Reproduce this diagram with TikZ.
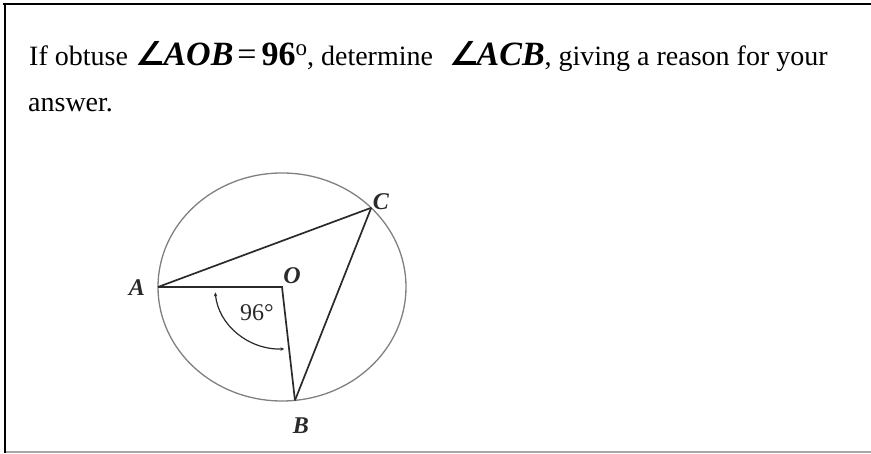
\documentclass[tikz,border=0pt]{standalone}
\usepackage{fontspec}
\setmainfont{Liberation Serif}
\newfontfamily\symfont{DejaVu Sans}
\usetikzlibrary{arrows.meta,calc}
\definecolor{ink}{HTML}{2A2A2A}
\definecolor{rim}{HTML}{808080}
\tikzset{
  textline/.style={anchor=base west, inner sep=0pt, font=\fontsize{28}{32}\selectfont},
  ptlabel/.style={inner sep=0pt, text=ink, font=\fontsize{24}{28}\selectfont\bfseries\itshape},
  chord/.style={draw=ink, line width=1.7pt},
  frameline/.style={draw=black, line width=2.2pt},
}
\newcommand{\mathpart}[1]{{\fontsize{34}{38}\selectfont\bfseries\itshape #1}}
\newcommand{\angsym}{{\fontsize{33}{38}\selectfont\symfont ∠}}
\begin{document}
\begin{tikzpicture}[x=1pt,y=1pt]
\useasboundingbox (0,0) rectangle (871,454);
% frame
\coordinate (ftl) at (3,449.7);
\coordinate (ftr) at (871,449.7);
\coordinate (fltop) at (5.2,451);
\coordinate (flbot) at (5.2,1);
\coordinate (fbl) at (6,2);
\coordinate (fbr) at (871,2);
\draw[frameline] (ftl) -- (ftr);
\draw[frameline] (fltop) -- (flbot);
\draw[draw=gray!70, line width=2pt] (fbl) -- (fbr);
% text
\node[textline] (l1) at (29,388) {If obtuse\hspace{8pt}\mathpart{\angsym\kern-2pt AOB}\hspace{4pt}{\fontsize{34}{38}\selectfont =}\hspace{5pt}\mathpart{\upshape 96}\raisebox{0.8ex}{\fontsize{23}{24}\selectfont o}, determine \hspace{9pt}\mathpart{\angsym\kern-2pt ACB}, giving a reason for your};
\node[textline] (l2) at (28,342) {answer.};
% figure
\coordinate (O) at (282,167);
\path (O) ++(180:124 and 114) coordinate (A);
\path (O) ++(276:124 and 114) coordinate (B);
\path (O) ++(44:124 and 114) coordinate (C);
\draw[draw=rim, line width=1.3pt] (O) ellipse [x radius=124, y radius=114];
\draw[chord] (A) -- (C);
\draw[chord] (A) -- (O) -- (B);
\draw[chord] (B) -- (C);
\draw[draw=ink, line width=1.2pt, {Stealth[length=4pt,width=3.5pt]}-{Stealth[length=4pt,width=3.5pt]}]
  ($(O)+(185:67 and 62)$) arc [start angle=185, end angle=272, x radius=67, y radius=62];
\node[ptlabel] (la) at (137,166) {A};
\node[ptlabel] (lo) at (292,178) {O};
\node[ptlabel] (lc) at (381,252) {C};
\node[ptlabel] (lb) at (301,28) {B};
\node[inner sep=0pt, text=ink, font=\fontsize{24}{28}\selectfont] (ang) at (257,141) {96°};
\end{tikzpicture}
\end{document}
